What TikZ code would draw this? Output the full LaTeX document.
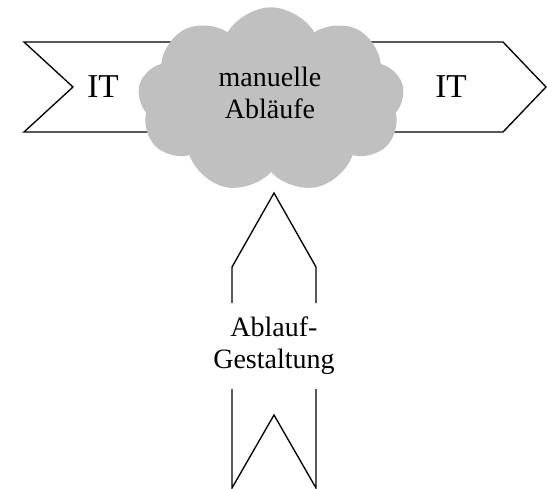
\documentclass[tikz,border=0pt]{standalone}
\usepackage{xcolor}
\usepackage{fontspec}
\setmainfont{Liberation Serif}
\usetikzlibrary{shapes.symbols}

\definecolor{cloudgray}{RGB}{192,192,192}

\begin{document}
\begin{tikzpicture}[x=0.75pt,y=0.75pt,yscale=-1,xscale=1]
\useasboundingbox (0,0) rectangle (547,489);

%Shape: Chevron left
\draw [line width=1pt]  (190,42) -- (24,42) -- (73,87) -- (24,132) -- (190,132) ;
%Shape: Chevron right
\draw [line width=1pt]  (350,42) -- (503,42) -- (546,87) -- (503,132) -- (350,132) ;
%Shape: Cloud
\node (manual) [cloud, cloud puffs=9, cloud puff arc=120, fill=cloudgray, draw=none, inner sep=0pt, minimum width=200pt, minimum height=139pt] at (271,100) {};
%Shape: Arrow up (upper part)
\draw [line width=1pt]  (232,303) -- (232,267) -- (274,193) -- (316,267) -- (316,303) ;
%Shape: Arrow up (lower part)
\draw [line width=1pt]  (232,389) -- (232,488) -- (274,415) -- (316,488) -- (316,389) ;

% Text Node
\draw (103,87) node (itleft) [align=center, font={\fontsize{25}{28}\selectfont}] {IT};
% Text Node
\draw (451,87) node (itright) [align=center, font={\fontsize{25}{28}\selectfont}] {IT};
% Text Node
\draw (270,93) node (manualtext) [align=center, font={\fontsize{21}{24}\selectfont}] {manuelle\\Abläufe};
% Text Node
\draw (274,346) node (design) [align=center, font={\fontsize{21}{24}\selectfont}] {Ablauf-\\Gestaltung};

\end{tikzpicture}
\end{document}
